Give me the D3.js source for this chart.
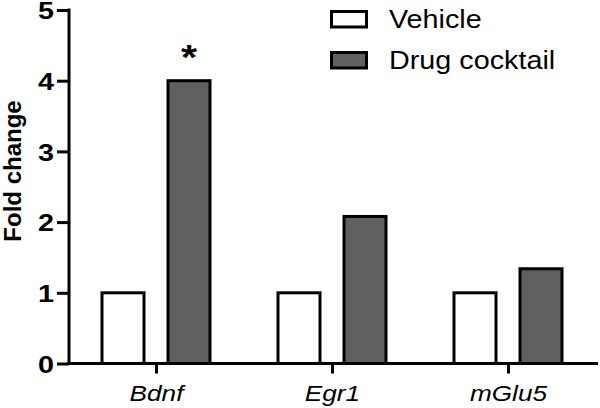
<!DOCTYPE html>
<html>
<head>
<meta charset="utf-8">
<script src="https://cdn.jsdelivr.net/npm/d3@7"></script>
<style>
  body { margin: 0; background: #fff; }
  text { font-family: "Liberation Sans", Arial, sans-serif; }
</style>
</head>
<body>
<svg id="chart" width="600" height="408"></svg>
<script>
const genes = ["Bdnf", "Egr1", "mGlu5"];
const vehicle = [1, 1, 1];
const cocktail = [4.0, 2.08, 1.34];
const yTicks = [0, 1, 2, 3, 4, 5];
const seriesNames = ["Vehicle", "Drug cocktail"];
const seriesColors = ["#ffffff", "#606060"];
const significant = [true, false, false];

const svg = d3.select("#chart");
const x0 = 69, x1 = 598, yBase = 363.5, yTop = 10;

// category positions
const x = d3.scalePoint().domain(genes).range([156, 508]);
const y = d3.scaleLinear().domain([0, 5]).range([yBase, yTop]);
const barW = 42, off = 33;

const series = [vehicle, cocktail];
series.forEach(function(vals, s) {
    svg.selectAll(".bar" + s)
        .data(vals)
        .enter().append("rect")
        .attr("x", (d, i) => x(genes[i]) + (s === 0 ? -off : off) - barW / 2)
        .attr("y", d => y(d))
        .attr("width", barW)
        .attr("height", d => yBase - y(d))
        .style("fill", seriesColors[s])
        .style("stroke", "#000")
        .style("stroke-width", 3);
});

// asterisks
cocktail.forEach(function(d, i) {
    if (!significant[i]) return;
    svg.append("text")
        .attr("transform", `translate(${x(genes[i]) + off},${y(d) - 12}) scale(1.15,1)`)
        .attr("text-anchor", "middle")
        .style("font-size", "36px")
        .style("font-weight", "bold")
        .text("*");
});

// y axis
const yAxis = d3.axisLeft(y).tickValues(yTicks).tickSize(12).tickFormat(d3.format("d"));
const gy = svg.append("g").attr("transform", `translate(${x0},0)`).call(yAxis);
gy.select(".domain").remove();
gy.selectAll("line").style("stroke", "#000").style("stroke-width", 3);
gy.selectAll("text")
    .attr("x", 0).attr("dy", "0.38em")
    .attr("transform", "translate(-15,0) scale(1.25,1)")
    .attr("font-family", null)
    .style("font-size", "23px").style("font-weight", "bold").style("fill", "#000");
svg.append("line").attr("x1", x0).attr("x2", x0).attr("y1", yTop - 1.5).attr("y2", yBase + 1.5)
    .style("stroke", "#000").style("stroke-width", 3);

// x axis
const xAxis = d3.axisBottom(x).tickSize(10).tickPadding(12);
const gx = svg.append("g").attr("transform", `translate(0,${yBase})`).call(xAxis);
gx.select(".domain").remove();
gx.selectAll("line").style("stroke", "#000").style("stroke-width", 3);
gx.selectAll("text")
    .attr("y", 0).attr("dy", null)
    .attr("transform", "translate(0,37) scale(1.19,1)")
    .attr("font-family", null)
    .style("font-size", "22px").style("font-style", "italic").style("fill", "#000");
svg.append("line").attr("x1", x0 - 1.5).attr("x2", x1).attr("y1", yBase).attr("y2", yBase)
    .style("stroke", "#000").style("stroke-width", 3);

// y title
svg.append("text")
    .attr("transform", "translate(21,171) rotate(-90)")
    .attr("text-anchor", "middle")
    .style("font-size", "24px")
    .style("font-weight", "bold")
    .text("Fold change");

// legend
const leg = svg.append("g");
seriesNames.forEach(function(name, i) {
    const ly = 11.5 + i * 41;
    leg.append("rect").attr("x", 331.5).attr("y", ly).attr("width", 35).attr("height", 15.5)
        .style("fill", seriesColors[i]).style("stroke", "#000").style("stroke-width", 3);
    leg.append("text")
        .attr("transform", `translate(389,${ly + 16.5}) scale(1.15,1)`)
        .style("font-size", "25px").text(name);
});
</script>
</body>
</html>
